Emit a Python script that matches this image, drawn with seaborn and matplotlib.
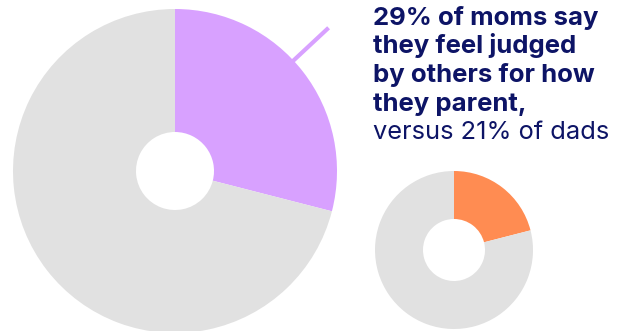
import matplotlib
matplotlib.use("Agg")
import matplotlib.pyplot as plt
import numpy as np
import seaborn as sns

# Share of parents who say they feel judged for how they parent
groups = ["Moms", "Dads"]
judged_pct = [29, 21]
slice_colors = ["#D8A1FF", "#FF8C52"]
rest_color = "#E1E1E1"
text_color = "#0D1466"

headline_lines = ["29% of moms say", "they feel judged", "by others for how", "they parent,"]
subline = "versus 21% of dads"

sns.set_theme(style="white")
plt.rcParams["font.family"] = ["Inter", "DejaVu Sans"]

W, H = 623, 331
fig = plt.figure(figsize=(W / 100, H / 100), dpi=100)
ax = fig.add_axes([0, 0, 1, 1])

# donut geometry in pixel units (y measured from bottom)
donuts = [
    dict(center=(175, H - 171), radius=162, hole=39),
    dict(center=(454, H - 250), radius=79, hole=31),
]

for pct, color, geo in zip(judged_pct, slice_colors, donuts):
    ax.pie(
        [pct, 100 - pct],
        colors=[color, rest_color],
        startangle=90,
        counterclock=False,
        center=geo["center"],
        radius=geo["radius"],
        wedgeprops=dict(width=geo["radius"] - geo["hole"], linewidth=0),
    )

# leader line from the moms slice toward the headline
cx, cy = donuts[0]["center"]
ang = np.deg2rad(43)
r0, r1 = 150, 210
ax.plot([cx + r0 * np.cos(ang), cx + r1 * np.cos(ang)],
        [cy + r0 * np.sin(ang), cy + r1 * np.sin(ang)],
        color=slice_colors[0], lw=3.0, solid_capstyle="butt", zorder=0)

ax.set_xlim(0, W)
ax.set_ylim(0, H)
ax.set_aspect("equal", adjustable="datalim")
ax.axis("off")

tx = 373
baselines = [25, 53.5, 82, 110.5]
for line, y in zip(headline_lines, baselines):
    ax.text(tx, H - y, line, fontsize=18.5, fontweight="bold", color=text_color,
            ha="left", va="baseline")
ax.text(tx, H - 139, subline, fontsize=18.3, color=text_color, ha="left", va="baseline")

fig.savefig("out.png", dpi=100, facecolor="white")
